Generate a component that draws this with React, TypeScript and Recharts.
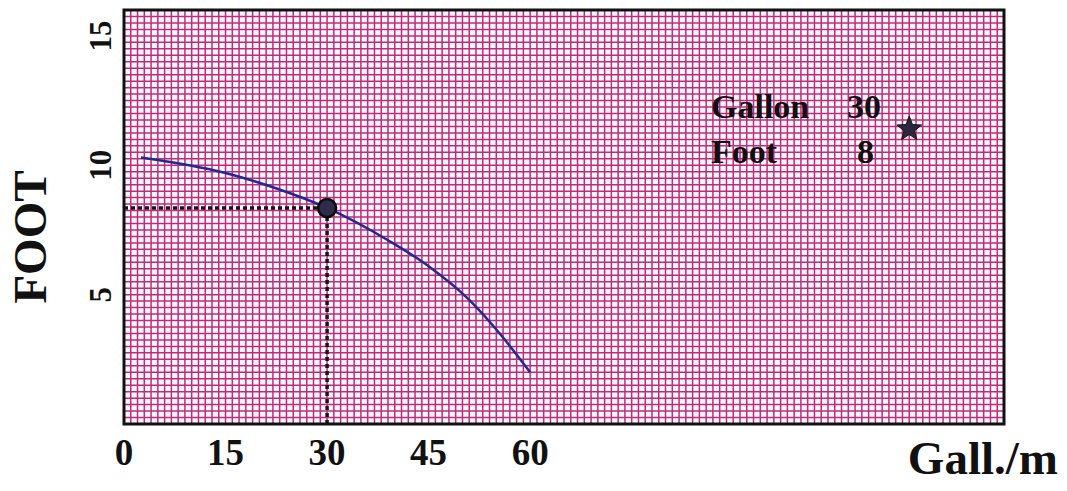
import React from "react";
import {
  ComposedChart,
  Line,
  Scatter,
  XAxis,
  YAxis,
  CartesianGrid,
  ReferenceLine,
  ReferenceArea,
} from "recharts";

// pump curve
const flow = [2.5, 15, 22, 30, 39, 45, 51, 55.5, 60];
const head = [10.3, 9.7, 9.15, 8.35, 7.1, 6.1, 4.8, 3.5, 2.0];

const xTicks = [0, 15, 30, 45, 60];
const yTicks = [5, 10, 15];

const dutyPoint = [{ flow: 30, head: 8.35 }];
const starPoint = [{ flow: 116, head: 11.4 }];

const data = flow.map((f, i) => ({ flow: f, head: head[i] }));

const W = 1067;
const H = 491;
const FONT = '"Liberation Serif", "DejaVu Serif", serif';
const GRID = "#c02a7e";

const XMAX = 130;
const YMAX = 16;

function vGrid({ offset }: any) {
  const out: number[] = [];
  for (let i = 0; i <= XMAX; i++) out.push(offset.left + (i * offset.width) / XMAX);
  return out;
}

function hGrid({ offset }: any) {
  const out: number[] = [];
  const n = YMAX * 4;
  for (let i = 0; i <= n; i++) out.push(offset.top + (i * offset.height) / n);
  return out;
}

const YTick = (props: any) => {
  const { y, payload } = props;
  return (
    <text
      x={100}
      y={y}
      transform={`rotate(-90 100 ${y})`}
      textAnchor="middle"
      dominantBaseline="central"
      fontFamily={FONT}
      fontWeight="bold"
      fontSize={31}
      fill="#111"
    >
      {payload.value}
    </text>
  );
};

const XTick = (props: any) => {
  const { x, payload } = props;
  return (
    <text
      x={x}
      y={465}
      textAnchor="middle"
      fontFamily={FONT}
      fontWeight="bold"
      fontSize={37}
      fill="#111"
    >
      {payload.value}
    </text>
  );
};

const Star = (props: any) => {
  const { cx, cy } = props;
  const pts: string[] = [];
  for (let i = 0; i < 10; i++) {
    const r = i % 2 === 0 ? 13 : 5.5;
    const a = -Math.PI / 2 + (i * Math.PI) / 5;
    pts.push(`${cx + r * Math.cos(a)},${cy + r * Math.sin(a)}`);
  }
  return <polygon points={pts.join(" ")} fill="#2b2740" stroke="#111" strokeWidth={1} />;
};

const Dot = (props: any) => {
  const { cx, cy } = props;
  return <circle cx={cx} cy={cy} r={9} fill="#2f2b4c" stroke="#0a0a0a" strokeWidth={2.5} />;
};

export default function App() {
  return (
    <div style={{ position: "absolute", left: 0, top: 0, width: W, height: H, background: "#fff" }}>
      <ComposedChart
        width={W}
        height={H}
        data={data}
        margin={{ top: 10, right: 63, bottom: 0, left: 0 }}
      >
        <CartesianGrid
          stroke={GRID}
          strokeWidth={1.5}
          fill="#fdf8fb"
          verticalCoordinatesGenerator={vGrid}
          horizontalCoordinatesGenerator={hGrid}
        />
        <XAxis
          type="number"
          dataKey="flow"
          domain={[0, XMAX]}
          ticks={xTicks}
          height={67}
          axisLine={false}
          tickLine={false}
          tick={<XTick />}
          interval={0}
        />
        <YAxis
          type="number"
          dataKey="head"
          domain={[0, YMAX]}
          ticks={yTicks}
          width={124}
          axisLine={false}
          tickLine={false}
          tick={<YTick />}
          interval={0}
        />
        <ReferenceArea
          x1={0}
          x2={XMAX}
          y1={0}
          y2={YMAX}
          fill="none"
          stroke="#111"
          strokeWidth={3}
          ifOverflow="visible"
        />
        <ReferenceLine
          segment={[
            { x: 0, y: dutyPoint[0].head },
            { x: dutyPoint[0].flow, y: dutyPoint[0].head },
          ]}
          stroke="#151515"
          strokeWidth={3.5}
          strokeDasharray="4 3"
        />
        <ReferenceLine
          segment={[
            { x: dutyPoint[0].flow, y: 0 },
            { x: dutyPoint[0].flow, y: dutyPoint[0].head },
          ]}
          stroke="#151515"
          strokeWidth={3.5}
          strokeDasharray="4 3"
        />
        <Line
          type="monotone"
          dataKey="head"
          stroke="#1d2a98"
          strokeWidth={2.5}
          dot={false}
          activeDot={false}
          isAnimationActive={false}
        />
        <Scatter data={dutyPoint} dataKey="head" shape={<Dot />} isAnimationActive={false} />
        <Scatter data={starPoint} dataKey="head" shape={<Star />} isAnimationActive={false} />
      </ComposedChart>
      <svg
        width={W}
        height={H}
        style={{ position: "absolute", left: 0, top: 0, pointerEvents: "none" }}
      >
        <g fontFamily={FONT} fontWeight="bold" fill="#111">
          <text x={711} y={118} fontSize={34}>Gallon</text>
          <text x={881} y={118} fontSize={34} textAnchor="end">30</text>
          <text x={711} y={163} fontSize={34}>Foot</text>
          <text x={874} y={163} fontSize={34} textAnchor="end">8</text>
          <text
            x={30}
            y={237}
            fontSize={47}
            textAnchor="middle"
            dominantBaseline="central"
            transform="rotate(-90 30 237)"
          >
            FOOT
          </text>
          <text x={1058} y={474} fontSize={47} textAnchor="end">Gall./m</text>
        </g>
      </svg>
    </div>
  );
}
